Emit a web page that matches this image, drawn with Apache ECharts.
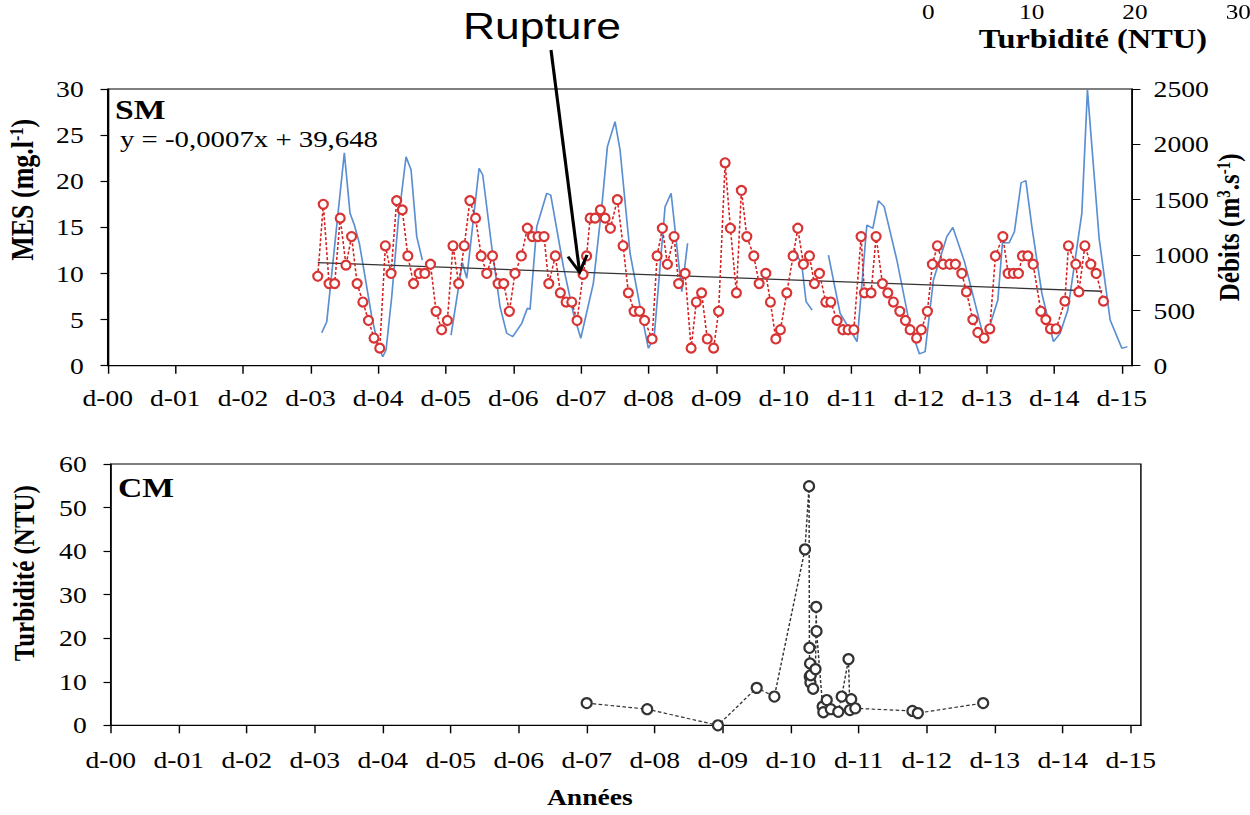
<!DOCTYPE html>
<html><head><meta charset="utf-8">
<script src="https://cdn.jsdelivr.net/npm/echarts@6/dist/echarts.min.js"></script>
<style>
html,body{margin:0;padding:0;background:#fff;overflow:hidden;width:1250px;height:815px;}
#wrap{width:1250px;height:815px;overflow:hidden;position:relative;background:#fff;}
#chart{width:1041.67px;height:815px;transform:scaleX(1.2);transform-origin:0 0;}
</style></head><body><div id="wrap"><div id="chart"></div></div>
<script>
// ---------------- DATA ----------------
const xTickLabels = ['d-00','d-01','d-02','d-03','d-04','d-05','d-06','d-07','d-08','d-09','d-10','d-11','d-12','d-13','d-14','d-15'];
const xTickValues = [0,1,2,3,4,5,6,7,8,9,10,11,12,13,14,15];

// MES (mg/l), station SM  (x in years since d-00)
const mesX = [3.107,3.189,3.274,3.357,3.439,3.524,3.607,3.689,3.774,3.857,3.939,4.024,4.107,4.191,4.274,4.357,4.439,4.524,4.607,4.691,4.774,4.857,4.939,5.024,5.107,5.191,5.274,5.357,5.441,5.524,5.607,5.691,5.774,5.857,5.941,6.024,6.118,6.207,6.281,6.365,6.454,6.524,6.621,6.695,6.780,6.864,6.942,7.031,7.083,7.135,7.209,7.287,7.357,7.435,7.538,7.623,7.701,7.786,7.867,7.941,8.052,8.126,8.204,8.278,8.377,8.444,8.540,8.629,8.706,8.784,8.868,8.962,9.036,9.132,9.210,9.299,9.373,9.453,9.556,9.635,9.734,9.802,9.882,9.950,10.044,10.138,10.207,10.290,10.379,10.453,10.527,10.621,10.695,10.788,10.873,10.951,11.036,11.143,11.192,11.291,11.365,11.459,11.538,11.621,11.716,11.799,11.868,11.964,12.034,12.124,12.198,12.272,12.356,12.456,12.538,12.633,12.701,12.796,12.870,12.963,13.047,13.130,13.240,13.318,13.396,13.470,13.530,13.609,13.688,13.802,13.876,13.944,14.028,14.157,14.210,14.320,14.364,14.453,14.541,14.620,14.728];
const mesY = [9.7,17.5,8.9,8.9,16.0,10.9,14.0,8.9,6.9,4.9,3.0,1.9,13.0,10.0,17.9,16.9,11.9,8.9,10.0,10.0,11.0,5.9,3.9,4.9,13.0,8.9,13.0,17.9,16.0,11.9,10.0,11.9,8.9,8.9,5.9,10.0,11.9,14.9,14.0,14.0,14.0,8.9,11.9,7.9,6.9,6.9,4.9,9.9,11.9,16.0,16.0,16.9,16.0,14.9,18.0,13.0,7.9,5.9,5.9,4.9,2.9,11.9,14.9,11.0,14.0,8.9,10.0,1.9,6.9,7.9,2.9,1.9,5.9,22.0,14.9,7.9,19.0,14.0,11.9,8.9,10.0,6.9,2.9,3.9,7.9,11.9,14.9,11.0,11.9,8.9,10.0,6.9,6.9,4.9,3.9,3.9,3.9,14.0,7.9,7.9,14.0,8.9,7.9,6.9,5.9,4.9,3.9,3.0,3.9,5.9,11.0,13.0,11.0,11.0,11.0,10.0,8.0,5.0,3.6,3.0,4.0,11.9,14.0,10.0,10.0,10.0,11.9,11.9,11.0,5.9,5.0,4.0,4.0,7.0,13.0,11.0,8.0,13.0,11.0,10.0,7.0];

// Débits (m3/s); '-' = gap in record
const debitX = [3.166,3.240,3.500,3.584,3.648,3.722,3.806,3.905,4.003,4.068,4.117,4.201,4.299,4.413,4.487,4.571,4.654,4.8,
  5.078,5.246,5.311,5.493,5.547,5.680,5.803,5.902,5.991,6.124,6.207,6.247,6.346,6.494,6.553,6.740,6.888,6.997,7.183,7.308,7.391,7.504,7.578,7.726,7.874,7.997,8.081,8.244,8.333,8.491,8.577,9.0,
  10.152,10.266,10.330,10.419,10.5,
  10.660,10.833,11.084,11.228,11.317,11.399,11.484,11.672,11.868,12.006,12.090,12.213,12.411,12.500,12.672,12.953,13.003,13.166,13.234,13.333,13.411,13.510,13.580,13.669,13.817,13.988,14.087,14.201,14.408,14.491,14.664,14.827,15.000,15.083];
const debitY = [298,398,1924,1377,1271,1106,804,443,172,81,142,623,1316,1888,1768,1166,955,'-',
  277,931,790,1784,1723,1075,533,293,262,383,519,510,1256,1558,1542,895,473,248,744,1437,1979,2205,1949,1016,533,157,248,1437,1558,669,1106,'-',
  1061,910,578,503,'-',
  1000,473,217,1271,1241,1491,1437,955,352,106,127,774,1166,1250,940,262,277,594,1111,1111,1211,1653,1672,1256,654,217,293,503,1377,2490,1151,413,157,172];

// Linear trend of MES (end points)
const trendX = [3.107, 14.71];
const trendY = [11.17, 8.07];
const trendLabel = 'y = -0,0007x + 39,648';
const ruptureX = 6.98;

// Turbidité (NTU), station CM
const turbX = [7.00,7.89,8.93,9.50,9.76,10.21,10.27,10.275,10.28,10.285,10.29,10.295,10.33,10.365,10.375,10.38,10.47,10.48,10.53,10.59,10.70,10.75,10.85,10.87,10.89,10.95,11.79,11.87,12.83];
const turbY = [5.1,3.7,0.0,8.6,6.6,40.4,54.9,17.8,11.2,14.2,9.8,11.5,8.4,12.9,27.2,21.6,4.3,3.0,5.8,3.7,3.1,6.6,15.2,3.5,6.0,3.9,3.3,2.8,5.1];

// top-right fragment axis ticks
const fragTicks = [0, 10, 20, 30];

// ---------------- CHART ----------------
const S = 1.2;                 // horizontal stretch of the original figure
const hx = v => v / S;         // reference-x -> container-x
const SERIF = 'Liberation Serif';
const zip = (a, b) => a.map((v, i) => [v, b[i]]);

const chart = echarts.init(document.getElementById('chart'), null, {renderer: 'svg', width: 1250 / S, height: 815});

const axisLine = {show: true, onZero: false, lineStyle: {color: '#000', width: 1.2}};
const tickStyle = {color: '#000', width: 1.2};
const plain = v => String(v);
const lab = (extra) => Object.assign({fontFamily: SERIF, fontSize: 23, color: '#000', formatter: plain}, extra);
const xFmt = v => {
  const r = Math.round(v);
  return (Math.abs(v - r) < 1e-6 && xTickLabels[r] !== undefined) ? xTickLabels[r] : '';
};

const option = {
  animation: false,
  backgroundColor: '#fff',
  grid: [
    {left: hx(107.7), top: 89, width: hx(1024.3), height: 276.7, show: true, borderColor: '#000', borderWidth: 1.2,
     backgroundColor: 'transparent', containLabel: false, outerBoundsMode: 'none'},
    {left: hx(110.7), top: 464, width: hx(1030.2), height: 261.3, show: true, borderColor: '#000', borderWidth: 1.2,
     backgroundColor: 'transparent', containLabel: false, outerBoundsMode: 'none'},
    {left: hx(928.3), top: -60, width: hx(310), height: 50, show: false, containLabel: false, outerBoundsMode: 'none'}
  ],
  xAxis: [
    {gridIndex: 0, type: 'value', min: 0, max: 15.15, interval: 1,
     axisLine, axisTick: {show: true, length: 8, lineStyle: tickStyle, customValues: xTickValues},
     axisLabel: lab({margin: 21, formatter: xFmt, customValues: xTickValues}), splitLine: {show: false}},
    {gridIndex: 1, type: 'value', min: 0, max: 15.15, interval: 1,
     axisLine, axisTick: {show: true, length: 8, lineStyle: tickStyle, customValues: xTickValues},
     axisLabel: lab({margin: 23, formatter: xFmt, customValues: xTickValues}), splitLine: {show: false},
     name: 'Années', nameLocation: 'middle', nameGap: 60, nameMoveOverlap: false,
     nameTextStyle: {fontFamily: SERIF, fontWeight: 'bold', fontSize: 23, color: '#000', padding: [0, 60, 0, 0]}},
    {gridIndex: 2, type: 'value', min: 0, max: 30, interval: 10,
     axisLine: {show: false}, axisTick: {show: false}, splitLine: {show: false},
     axisLabel: lab({margin: 14, fontSize: 21, lineHeight: 16, customValues: fragTicks}),
     name: 'Turbidité (NTU)', nameLocation: 'middle', nameGap: 35, nameMoveOverlap: false,
     nameTextStyle: {fontFamily: SERIF, fontWeight: 'bold', fontSize: 27, color: '#000', padding: [0, 0, 0, 16]}}
  ],
  yAxis: [
    {gridIndex: 0, type: 'value', min: 0, max: 30, interval: 5,
     axisLine, axisTick: {show: true, length: 6, lineStyle: tickStyle}, splitLine: {show: false},
     axisLabel: lab({margin: 20}),
     name: 'MES (mg.l{sup|-1})', nameLocation: 'middle', nameRotate: 90, nameGap: 58, nameMoveOverlap: false,
     nameTextStyle: {fontFamily: SERIF, fontWeight: 'bold', fontSize: 26, color: '#000', padding: [0, 0, 0, 75],
       rich: {sup: {fontFamily: SERIF, fontWeight: 'bold', fontSize: 16, color: '#000', padding: [0, 0, 10, 0]}}}},
    {gridIndex: 0, type: 'value', position: 'right', min: 0, max: 2500, interval: 500,
     axisLine, axisTick: {show: true, length: 7, lineStyle: tickStyle}, splitLine: {show: false},
     axisLabel: lab({margin: 18}),
     name: 'Débits (m{sup|3}.s{sup|-1})', nameLocation: 'middle', nameRotate: 90, nameGap: 68, nameMoveOverlap: false,
     nameTextStyle: {fontFamily: SERIF, fontWeight: 'bold', fontSize: 25, color: '#000',
       rich: {sup: {fontFamily: SERIF, fontWeight: 'bold', fontSize: 15, color: '#000', padding: [0, 0, 8, 0]}}}},
    {gridIndex: 1, type: 'value', min: 0, max: 60, interval: 10,
     axisLine, axisTick: {show: true, length: 6, lineStyle: tickStyle}, splitLine: {show: false},
     axisLabel: lab({margin: 20}),
     name: 'Turbidité (NTU)', nameLocation: 'middle', nameRotate: 90, nameGap: 60, nameMoveOverlap: false,
     nameTextStyle: {fontFamily: SERIF, fontWeight: 'bold', fontSize: 25, color: '#000', padding: [0, 0, 0, 43]}},
    {gridIndex: 2, type: 'value', show: false}
  ],
  series: [
    {name: 'Débits', type: 'line', xAxisIndex: 0, yAxisIndex: 1, data: zip(debitX, debitY),
     showSymbol: false, connectNulls: false, lineStyle: {color: '#5b8fd2', width: 1.4}, z: 1},
    {name: 'Tendance', type: 'line', xAxisIndex: 0, yAxisIndex: 0, data: zip(trendX, trendY),
     showSymbol: false, lineStyle: {color: '#333', width: 1.3}, z: 2},
    {name: 'MES', type: 'line', xAxisIndex: 0, yAxisIndex: 0, data: zip(mesX, mesY),
     symbol: 'emptyCircle', symbolSize: [9 / S, 9],
     itemStyle: {color: '#d83434', borderWidth: 1.4},
     lineStyle: {color: '#d42020', width: 1.3, type: [3, 2]}, z: 3},
    {name: 'Turbidité CM', type: 'line', xAxisIndex: 1, yAxisIndex: 2, data: zip(turbX, turbY),
     symbol: 'emptyCircle', symbolSize: [10 / S, 10],
     itemStyle: {color: '#333', borderWidth: 1.4},
     lineStyle: {color: '#333', width: 1.2, type: [3, 2]}, z: 3}
  ]
};
chart.setOption(option);

const trendAt = x => trendY[0] + (x - trendX[0]) * (trendY[1] - trendY[0]) / (trendX[1] - trendX[0]);
const tip = chart.convertToPixel({xAxisIndex: 0, yAxisIndex: 0}, [ruptureX, trendAt(ruptureX)]);

chart.setOption({
  graphic: [
    {type: 'text', left: hx(115), top: 95, style: {text: 'SM', fontFamily: SERIF, fontWeight: 'bold', fontSize: 28, fill: '#000'}},
    {type: 'text', left: hx(120), top: 127, style: {text: trendLabel, fontFamily: SERIF, fontSize: 24, fill: '#000'}},
    {type: 'text', left: hx(118), top: 473, style: {text: 'CM', fontFamily: SERIF, fontWeight: 'bold', fontSize: 28, fill: '#000'}},
    {type: 'text', left: hx(463), top: 8, style: {text: 'Rupture', fontFamily: 'Liberation Sans', fontSize: 37, fill: '#000'}},
    {type: 'line', shape: {x1: hx(551), y1: 50, x2: tip[0], y2: tip[1]}, style: {stroke: '#000', lineWidth: 2.6}, z: 10},
    {type: 'polyline', shape: {points: [[tip[0] - 9.7, tip[1] - 15.6], [tip[0], tip[1]], [tip[0] + 6.2, tip[1] - 17.3]]},
     style: {stroke: '#000', lineWidth: 2.6, fill: null}, z: 10}
  ]
});
</script></body></html>
